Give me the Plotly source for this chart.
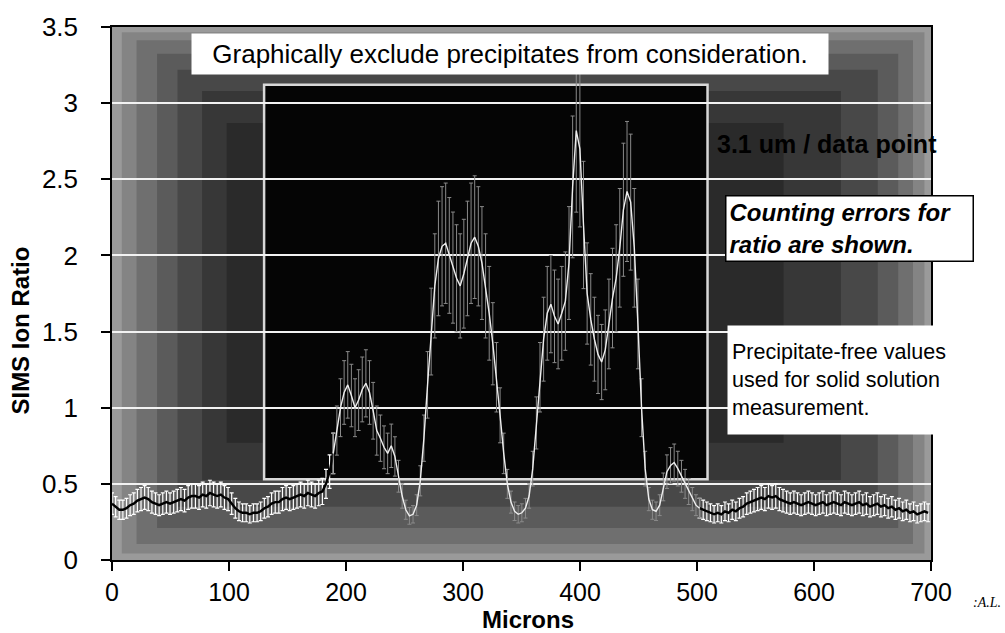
import plotly.graph_objects as go

# ---------------- data ----------------
STEP_UM = 3.1  # "3.1 um / data point"
ratio = [
    0.37, 0.35, 0.33, 0.33, 0.34, 0.36, 0.37, 0.39, 0.40, 0.41,
    0.40, 0.38, 0.37, 0.36, 0.37, 0.38, 0.37, 0.38, 0.39, 0.40,
    0.39, 0.41, 0.42, 0.42, 0.41, 0.43, 0.42, 0.44, 0.43, 0.42,
    0.43, 0.41, 0.40, 0.37, 0.34, 0.32, 0.31, 0.31, 0.30, 0.31,
    0.31, 0.32, 0.34, 0.35, 0.37, 0.38, 0.38, 0.40, 0.41, 0.40,
    0.41, 0.42, 0.43, 0.42, 0.44, 0.43, 0.42, 0.44, 0.45, 0.50,
    0.58, 0.70,
    0.85, 1.00, 1.10, 1.15, 1.08, 1.00, 1.05, 1.12, 1.16, 1.10,
    0.98, 0.85, 0.80, 0.74, 0.70, 0.75, 0.68, 0.55, 0.42, 0.33,
    0.29, 0.30, 0.36, 0.52, 0.80, 1.15, 1.50, 1.80, 1.98, 2.06,
    2.08, 2.00, 1.92, 1.85, 1.80, 1.88, 1.98, 2.08, 2.12, 2.06,
    1.95, 1.80, 1.62, 1.42, 1.20, 0.95, 0.70, 0.50, 0.38, 0.32,
    0.30, 0.31, 0.34, 0.42, 0.60, 0.90, 1.20, 1.45, 1.62, 1.68,
    1.60, 1.55, 1.62, 1.70, 1.95, 2.45, 2.82, 2.70, 2.20, 1.75,
    1.58, 1.45, 1.35, 1.30, 1.38, 1.55, 1.72, 1.85, 2.05, 2.30,
    2.42, 2.35, 2.05, 1.55, 1.00, 0.60, 0.40, 0.33, 0.32, 0.36,
    0.48, 0.58, 0.62, 0.64, 0.60, 0.55, 0.50, 0.45, 0.40, 0.36,
    0.34, 0.33, 0.32, 0.31, 0.30, 0.31, 0.30, 0.32, 0.31, 0.33,
    0.32, 0.34, 0.35, 0.37, 0.38, 0.39, 0.40, 0.41, 0.40, 0.42,
    0.41, 0.42, 0.40, 0.39, 0.38, 0.37, 0.38, 0.37, 0.36, 0.37,
    0.38, 0.37, 0.36, 0.37, 0.38, 0.36, 0.37, 0.38, 0.37, 0.36,
    0.38, 0.37, 0.36, 0.37, 0.38, 0.36, 0.37, 0.35, 0.36, 0.37,
    0.35, 0.36, 0.34, 0.35, 0.33, 0.34, 0.32, 0.33, 0.31, 0.32,
    0.30, 0.31, 0.32, 0.31,
]
microns = [i * STEP_UM for i in range(len(ratio))]
COUNT_ERR_PCT = 19  # counting error shown as % of ratio

x_ticks = [0, 100, 200, 300, 400, 500, 600, 700]
y_ticks = [0, 0.5, 1, 1.5, 2, 2.5, 3, 3.5]
y_tick_text = ["0", "0.5", "1", "1.5", "2", "2.5", "3", "3.5"]

EXCLUDE_X = [130, 509]     # excluded (precipitate) window
EXCLUDE_Y = [0.53, 3.12]
SPLIT_LO, SPLIT_HI = 61, 162  # indices where the trace enters / leaves the window

FONT = "Arial, Liberation Sans, sans-serif"

fig = go.Figure()

def seg(a, b):
    return microns[a:b + 1], ratio[a:b + 1]

# outside the window: black line, white error bars
for a, b in [(0, SPLIT_LO), (SPLIT_HI, len(ratio) - 1)]:
    xs, ys = seg(a, b)
    fig.add_trace(go.Scatter(
        x=xs, y=ys, mode="lines",
        line=dict(color="#000000", width=2.4),
        error_y=dict(type="percent", value=COUNT_ERR_PCT, color="#ffffff",
                     thickness=1.2, width=2),
        showlegend=False, hoverinfo="skip"))

# inside the window: light line, grey error bars
xs, ys = seg(SPLIT_LO, SPLIT_HI)
fig.add_trace(go.Scatter(
    x=xs, y=ys, mode="lines",
    line=dict(color="#eeeeee", width=1.4),
    error_y=dict(type="percent", value=COUNT_ERR_PCT, color="#8a8a8a",
                 thickness=1, width=2),
    showlegend=False, hoverinfo="skip"))

# ---- background: dithered grey, darker toward centre ----
shapes = []
levels = [
    ([0.0, 1.0], [0.0, 1.0], "#9a9a9a"),
    ([0.012, 0.992], [0.012, 0.99], "#848484"),
    ([0.03, 0.978], [0.03, 0.975], "#6f6f6f"),
    ([0.055, 0.96], [0.06, 0.95], "#5b5b5b"),
    ([0.08, 0.935], [0.10, 0.92], "#484848"),
    ([0.11, 0.89], [0.15, 0.88], "#373737"),
    ([0.14, 0.82], [0.22, 0.82], "#2a2a2a"),
]
for (x0, x1), (y0, y1), col in levels:
    shapes.append(dict(type="rect", xref="x domain", yref="y domain",
                       x0=x0, x1=x1, y0=y0, y1=y1, fillcolor=col,
                       line=dict(width=0), layer="below"))
# exclusion window
shapes.append(dict(type="rect", xref="x", yref="y",
                   x0=EXCLUDE_X[0], x1=EXCLUDE_X[1],
                   y0=EXCLUDE_Y[0], y1=EXCLUDE_Y[1],
                   fillcolor="#050505", line=dict(color="#d8d8d8", width=2.5),
                   layer="below"))

annotations = [
    dict(text="Graphically exclude precipitates from consideration.",
         xref="paper", yref="paper", x=0.486, y=0.949,
         xanchor="center", yanchor="middle", showarrow=False,
         font=dict(family=FONT, size=26, color="#000000"),
         bgcolor="#ffffff", width=630, height=34, borderpad=3),
    dict(text="<b>3.1 um / data point</b>",
         xref="paper", yref="paper", x=0.736, y=0.781,
         xanchor="left", yanchor="middle", showarrow=False,
         font=dict(family=FONT, size=25, color="#000000")),
    dict(text="<b><i>Counting errors for<br>ratio are shown.</i></b>",
         xref="paper", yref="paper", x=0.7485, y=0.685,
         xanchor="left", yanchor="top", showarrow=False, align="left",
         font=dict(family=FONT, size=24, color="#000000"),
         bgcolor="#ffffff", bordercolor="#000000", borderwidth=1.5,
         borderpad=3, width=240, height=58),
    dict(text="Precipitate-free values<br>used for solid solution<br>measurement.",
         xref="paper", yref="paper", x=0.751, y=0.44,
         xanchor="left", yanchor="top", showarrow=False, align="left",
         font=dict(family=FONT, size=21.5, color="#000000"),
         bgcolor="#ffffff", borderpad=4, width=226, height=100),
    dict(text="<b>Microns</b>", xref="paper", yref="paper", x=0.508, y=-0.112,
         xanchor="center", yanchor="middle", showarrow=False,
         font=dict(family=FONT, size=24, color="#000000")),
    dict(text="<b>SIMS Ion Ratio</b>", xref="paper", yref="paper", x=-0.112, y=0.431,
         xanchor="center", yanchor="middle", showarrow=False, textangle=-90,
         font=dict(family=FONT, size=24, color="#000000")),
    dict(text="<i>:A.L.</i>", xref="paper", yref="paper", x=1.068, y=-0.080,
         xanchor="center", yanchor="middle", showarrow=False,
         font=dict(family="Liberation Serif, serif", size=14, color="#000000")),
]

fig.update_layout(
    width=1005, height=633, autosize=False,
    margin=dict(l=112, r=74, t=20, b=73),
    paper_bgcolor="#ffffff", plot_bgcolor="#9a9a9a",
    shapes=shapes, annotations=annotations,
    font=dict(family=FONT, color="#000000"),
)
fig.update_xaxes(range=[0, 700], tickvals=x_ticks, showgrid=False, zeroline=False,
                 showline=True, linecolor="#000000", linewidth=1.5, mirror=True,
                 ticks="outside", ticklen=9, tickcolor="#000000", tickwidth=1.5,
                 tickfont=dict(family=FONT, size=25, color="#000000"),
                 ticklabelstandoff=0)
fig.update_yaxes(range=[0, 3.5], tickvals=y_ticks, ticktext=y_tick_text,
                 showgrid=True, gridcolor="#f2f2f2", gridwidth=1.6, zeroline=False,
                 showline=True, linecolor="#000000", linewidth=1.5, mirror=True,
                 ticks="outside", ticklen=9, tickcolor="#000000", tickwidth=1.5,
                 tickfont=dict(family=FONT, size=26, color="#000000"),
                 ticklabelstandoff=18)

fig.write_html("out.html")
